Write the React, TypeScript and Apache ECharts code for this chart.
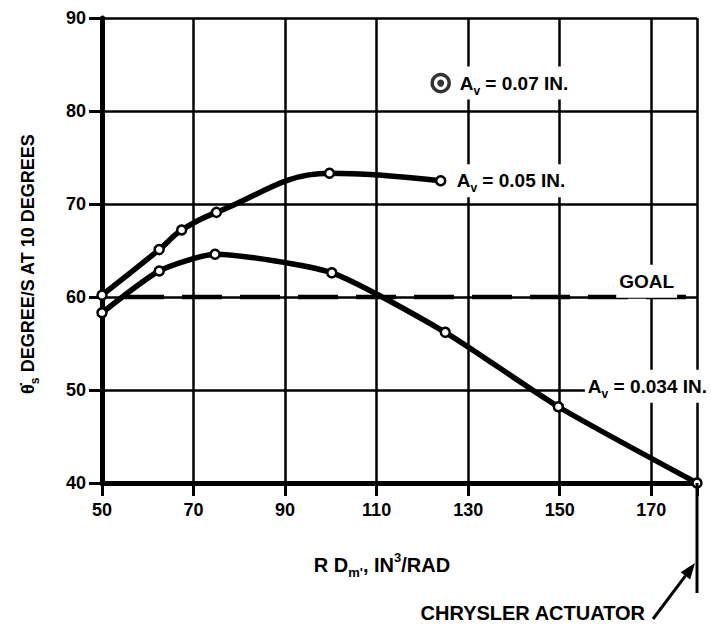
import React, { useEffect, useRef } from 'react';
import * as echarts from 'echarts';

// ---- data ----
const xMin = 50;
const xMax = 180;
const xInterval = 20;
const yMin = 40;
const yMax = 90;
const yInterval = 10;

// A_v = 0.05 IN. curve
const av005X = [50, 62.5, 67.4, 75, 99.7, 124];
const av005Y = [60.2, 65.1, 67.2, 69.1, 73.3, 72.5];

// A_v = 0.034 IN. curve
const av0034X = [50, 62.5, 74.7, 100.2, 125, 149.7, 180];
const av0034Y = [58.3, 62.8, 64.6, 62.6, 56.2, 48.2, 40];

// A_v = 0.07 IN. single point
const av007X = [124];
const av007Y = [83];

// goal level
const goalY = 60;
// Chrysler actuator
const chryslerX = 180;

const FONT = "'Liberation Sans', Arial, sans-serif";

const zip = (xs: number[], ys: number[]) => xs.map((x, i) => [x, ys[i]]);

export default function App() {
  const ref = useRef<HTMLDivElement>(null);

  useEffect(() => {
    if (!ref.current) return;
    const chart = echarts.init(ref.current, null, { renderer: 'svg' });

    const markerStyle = {
      color: '#fff',
      borderColor: '#000',
      borderWidth: 2.5,
    };

    chart.setOption({
      animation: false,
      backgroundColor: '#fff',
      grid: { left: 102, right: 14, top: 18, bottom: 149, containLabel: false },
      xAxis: {
        type: 'value',
        min: xMin,
        max: xMax,
        interval: xInterval,
        axisLine: { show: true, lineStyle: { color: '#000', width: 5 } },
        axisTick: { show: true, length: 13, lineStyle: { color: '#000', width: 3 } },
        axisLabel: {
          color: '#000',
          fontFamily: FONT,
          fontWeight: 'bold',
          fontSize: 18,
          margin: 18,
          formatter: (v: number) => (v === xMax ? '' : String(v)),
        },
        splitLine: { show: true, lineStyle: { color: '#000', width: 2.5 } },
      },
      yAxis: {
        type: 'value',
        min: yMin,
        max: yMax,
        interval: yInterval,
        axisLine: { show: true, lineStyle: { color: '#000', width: 5 } },
        axisTick: { show: true, length: 13, lineStyle: { color: '#000', width: 3 } },
        axisLabel: {
          color: '#000',
          fontFamily: FONT,
          fontWeight: 'bold',
          fontSize: 18,
          margin: 16,
        },
        splitLine: { show: true, lineStyle: { color: '#000', width: 2.5 } },
      },
      series: [
        {
          name: 'goal',
          type: 'line',
          data: [
            [xMin, goalY],
            [xMax, goalY],
          ],
          symbol: 'none',
          lineStyle: { color: '#000', width: 4.5, type: [40, 18], dashOffset: -22 },
          z: 1,
        },
        {
          name: 'Av 0.05',
          type: 'line',
          data: zip(av005X, av005Y),
          smooth: 0.4,
          symbol: 'circle',
          symbolSize: 9,
          lineStyle: { color: '#000', width: 5.5 },
          itemStyle: markerStyle,
          z: 3,
        },
        {
          name: 'Av 0.034',
          type: 'line',
          data: zip(av0034X, av0034Y),
          smooth: 0.2,
          symbol: 'circle',
          symbolSize: 9,
          lineStyle: { color: '#000', width: 5.5 },
          itemStyle: markerStyle,
          z: 3,
        },
        {
          name: 'Av 0.07 ring',
          type: 'scatter',
          data: zip(av007X, av007Y),
          symbol: 'circle',
          symbolSize: 17,
          itemStyle: { color: '#fff', borderColor: '#000', borderWidth: 3.5 },
          z: 4,
        },
        {
          name: 'Av 0.07 dot',
          type: 'scatter',
          data: zip(av007X, av007Y),
          symbol: 'circle',
          symbolSize: 7,
          itemStyle: { color: '#000' },
          z: 5,
        },
      ],
    });

    const px = (x: number, y: number) =>
      chart.convertToPixel({ gridIndex: 0 }, [x, y]) as number[];

    const mkRich = (size: number) => ({
      a: { fontFamily: FONT, fontWeight: 'bold', fontSize: size, color: '#000', lineHeight: size + 8 },
      s: {
        fontFamily: FONT,
        fontWeight: 'bold',
        fontSize: Math.round(size * 0.65),
        color: '#000',
        verticalAlign: 'bottom',
        lineHeight: Math.round(size * 0.65) + 2,
      },
      p: {
        fontFamily: FONT,
        fontWeight: 'bold',
        fontSize: Math.round(size * 0.65),
        color: '#000',
        verticalAlign: 'top',
        lineHeight: Math.round(size * 0.65) + 2,
      },
    });

    const label = (text: string, x: number, y: number, align = 'left', size = 19) => ({
      type: 'text',
      x,
      y,
      z: 20,
      style: {
        text,
        rich: mkRich(size),
        align,
        verticalAlign: 'middle',
        backgroundColor: '#fff',
        padding: [3, 3, 3, 3],
      },
    });

    const p007 = px(av007X[0], av007Y[0]);
    const p005 = px(av005X[av005X.length - 1], av005Y[av005Y.length - 1]);
    const p034 = px(155.5, 50.4);
    const pGoal = px(169, 61.7);
    const pCh = px(chryslerX, yMin);

    const head = [pCh[0] - 2, pCh[1] + 80];
    const tail = [pCh[0] - 44, pCh[1] + 136];
    const dx = head[0] - tail[0];
    const dy = head[1] - tail[1];
    const len = Math.hypot(dx, dy);
    const ux = dx / len;
    const uy = dy / len;
    const hl = 16;
    const hw = 6;
    const base = [head[0] - ux * hl, head[1] - uy * hl];

    chart.setOption({
      graphic: [
        label('{a|A}{s|v}{a| = 0.07 IN.}', p007[0] + 16, p007[1]),
        label('{a|A}{s|v}{a| = 0.05 IN.}', p005[0] + 13, p005[1]),
        label('{a|A}{s|v}{a| = 0.034 IN.}', p034[0], p034[1]),
        label('{a|GOAL}', pGoal[0], pGoal[1], 'center'),
        {
          type: 'line',
          z: 6,
          shape: { x1: pCh[0], y1: pCh[1], x2: pCh[0], y2: pCh[1] + 110 },
          style: { stroke: '#000', lineWidth: 3 },
        },
        {
          type: 'line',
          z: 6,
          shape: { x1: tail[0], y1: tail[1], x2: base[0], y2: base[1] },
          style: { stroke: '#000', lineWidth: 3 },
        },
        {
          type: 'polygon',
          z: 6,
          shape: {
            points: [
              head,
              [base[0] - uy * hw, base[1] + ux * hw],
              [base[0] + uy * hw, base[1] - ux * hw],
            ],
          },
          style: { fill: '#000' },
        },
        {
          type: 'text',
          z: 6,
          x: tail[0] - 8,
          y: tail[1] - 6,
          style: {
            text: 'CHRYSLER ACTUATOR',
            font: `bold 20px ${FONT}`,
            fill: '#000',
            align: 'right',
            verticalAlign: 'middle',
          },
        },
        {
          type: 'text',
          z: 6,
          x: 382,
          y: 565,
          style: {
            text: "{a|R D}{s|m'}{a|, IN}{p|3}{a|/RAD}",
            rich: mkRich(20),
            align: 'center',
            verticalAlign: 'middle',
          },
        },
        {
          type: 'text',
          z: 6,
          x: 28,
          y: 264,
          rotation: Math.PI / 2,
          style: {
            text: '{a|\u03B8\u0307}{s|s}{a| DEGREE/S AT 10 DEGREES}',
            rich: mkRich(18),
            align: 'center',
            verticalAlign: 'middle',
          },
        },
      ],
    });

    return () => chart.dispose();
  }, []);

  return (
    <div
      ref={ref}
      style={{ position: 'fixed', left: 0, top: 0, width: 711, height: 632, background: '#fff' }}
    />
  );
}
